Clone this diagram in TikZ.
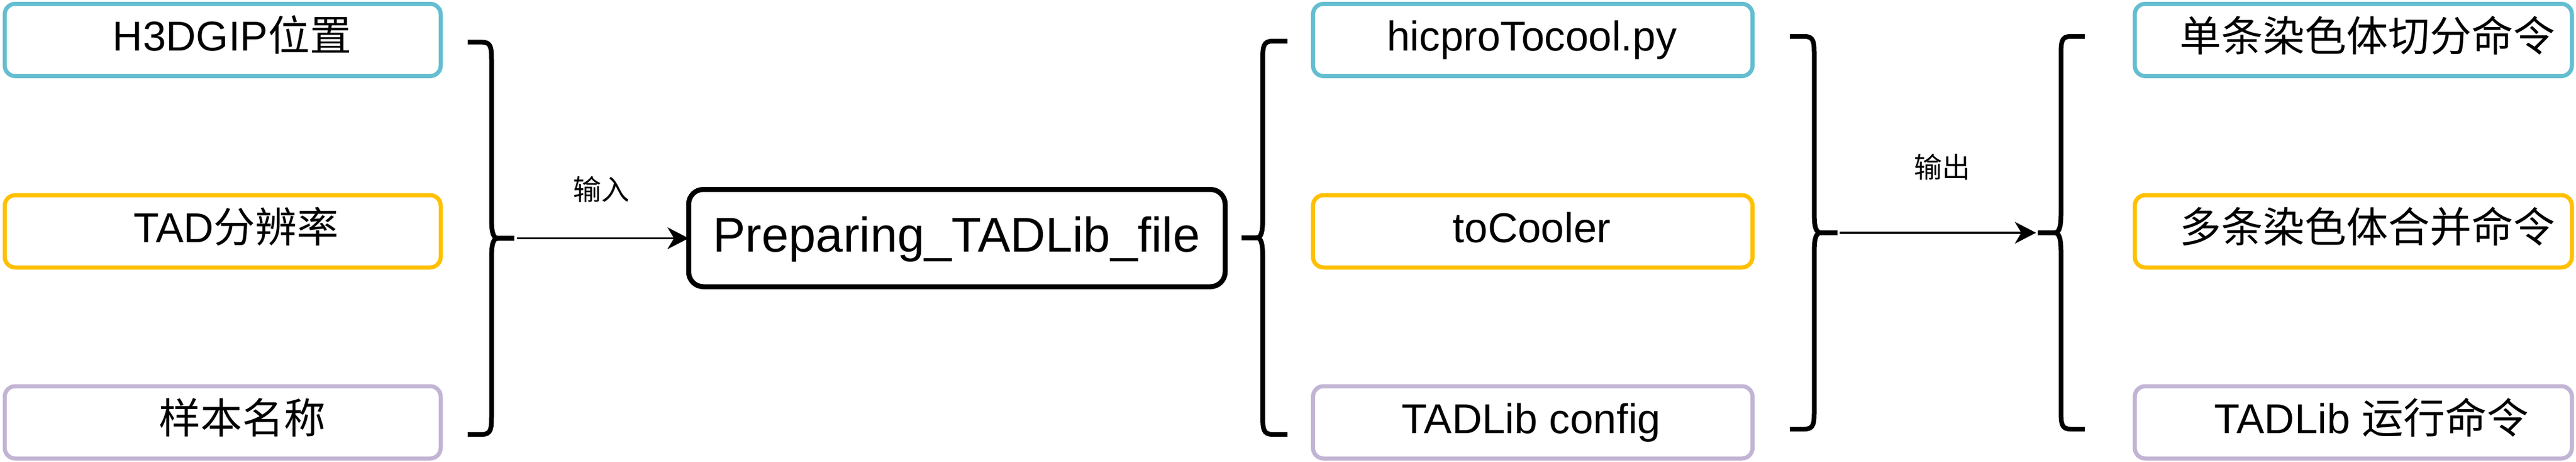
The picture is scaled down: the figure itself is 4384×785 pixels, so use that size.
\documentclass[tikz,border=0pt]{standalone}
\usepackage{fontspec}
\setmainfont{Liberation Sans}
\newfontfamily\cjk{Noto Sans CJK SC}
\usetikzlibrary{arrows.meta}
\definecolor{cblue}{RGB}{99,190,207}
\definecolor{cyellow}{RGB}{255,192,0}
\definecolor{cpurple}{RGB}{194,180,212}
\newcommand\mybrace[6]{% name, end x, vertical x, tip x, top y, bottom y
  \pgfmathsetmacro\bM{(#5+#6)/2}
  \pgfmathsetmacro\bEa{#2+0.6*(#3-#2)}
  \pgfmathsetmacro\bTa{#3+0.3*(#4-#3)}
  \pgfmathsetmacro\bTb{#3+0.08*(#4-#3)}
  \coordinate (#1tip) at (#4,\bM);
  \coordinate (#1top) at (#2,#5);
  \coordinate (#1bot) at (#2,#6);
  \draw[bracestyle] (#1top) -- (\bEa,#5) .. controls (#3,#5) and (#3,#5+10) .. (#3,#5+34)
    -- (#3,\bM-34) .. controls (#3,\bM-8) and (\bTb,\bM) .. (\bTa,\bM) -- (#1tip);
  \draw[bracestyle] (#1tip) -- (\bTa,\bM) .. controls (\bTb,\bM) and (#3,\bM+8) .. (#3,\bM+34)
    -- (#3,#6-34) .. controls (#3,#6-10) and (#3,#6) .. (\bEa,#6) -- (#1bot);
}
\begin{document}
\begin{tikzpicture}[x=1pt,y=-1pt,
  box/.style={draw, rounded corners=18pt, line width=7pt, inner sep=0pt, outer sep=0pt, minimum height=123pt},
  txt/.style={anchor=base, inner sep=0pt, font=\fontsize{71}{85}\selectfont},
  lbl/.style={anchor=base, inner sep=0pt, font=\cjk\fontsize{48}{58}\selectfont},
  bracestyle/.style={line width=8pt, line join=round, line cap=butt},
  conn/.style={line width=3.3pt, -{Stealth[length=36pt, width=37pt, inset=11pt]}}]
\useasboundingbox (0,0) rectangle (4384,785);
% column 1
\node[box, draw=cblue, minimum width=742pt] (a1) at (379,68) {};
\node[box, draw=cyellow, minimum width=742pt] (a2) at (379,393.5) {};
\node[box, draw=cpurple, minimum width=742pt] (a3) at (379,718.5) {};
\node[txt] (ta1) at (395,86) {H3DGIP{\cjk 位置}};
\node[txt] (ta2) at (402,412) {TAD{\cjk 分辨率}};
\node[txt] (ta3) at (412,737) {\cjk 样本名称};
% central box
\node[draw, rounded corners=25pt, line width=8.5pt, inner sep=0pt, outer sep=0pt,
  minimum width=913pt, minimum height=165.5pt] (prep) at (1628.5,405) {};
\node[anchor=base, inner sep=0pt, font=\fontsize{83}{100}\selectfont] (tprep) at (1628,428) {Preparing\_TADLib\_file};
% column 2
\node[box, draw=cblue, minimum width=748pt] (b1) at (2608.5,68) {};
\node[box, draw=cyellow, minimum width=748pt] (b2) at (2608.5,393.5) {};
\node[box, draw=cpurple, minimum width=748pt] (b3) at (2608.5,718.5) {};
\node[txt] (tb1) at (2607,86) {hicproTocool.py};
\node[txt] (tb2) at (2607,412) {toCooler};
\node[txt] (tb3) at (2606,737) {TADLib config};
% column 3
\node[box, draw=cblue, minimum width=744pt] (c1) at (4005,68) {};
\node[box, draw=cyellow, minimum width=744pt] (c2) at (4005,393.5) {};
\node[box, draw=cpurple, minimum width=744pt] (c3) at (4005,718.5) {};
\node[txt] (tc1) at (4029,87) {\cjk 单条染色体切分命令};
\node[txt] (tc2) at (4029,412) {\cjk 多条染色体合并命令};
\node[txt] (tc3) at (4036,737) {TADLib {\cjk 运行命令}};
% braces
\mybrace{br1}{796}{836.5}{875}{71.7}{739}
\mybrace{br2}{2191}{2149}{2113}{70}{739}
\mybrace{br3}{3046}{3087.5}{3127}{62}{730}
\mybrace{br4}{3548}{3507.5}{3468}{62}{730}
% connectors
\draw[conn] ([xshift=5pt]br1tip) -- (br1tip -| prep.west);
\draw[conn] ([xshift=4pt]br3tip) -- ([xshift=-3pt]br4tip);
\node[lbl] (l1) at (1023,340) {输入};
\node[lbl] (l2) at (3305,302) {输出};
\end{tikzpicture}
\end{document}
